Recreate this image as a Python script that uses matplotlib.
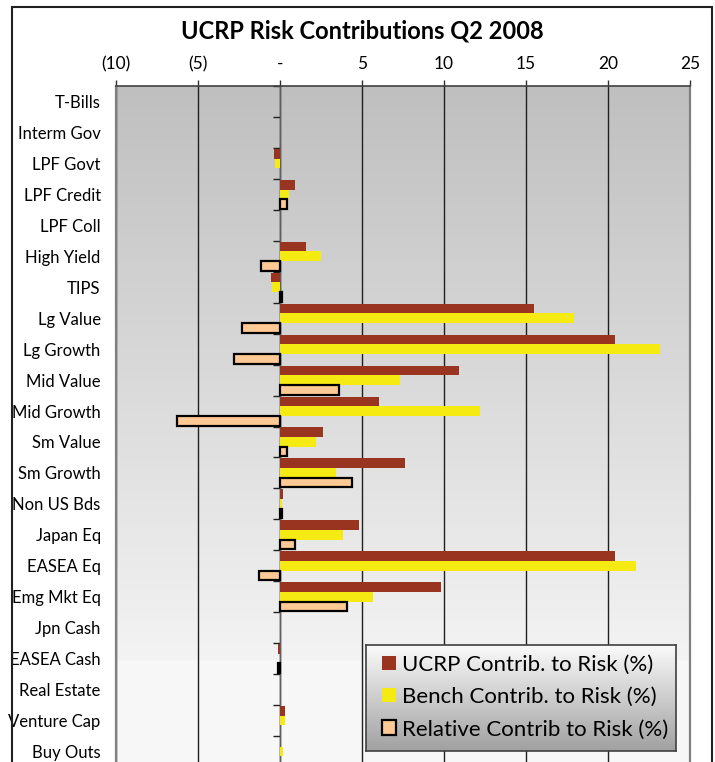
import numpy as np
import matplotlib
matplotlib.use("Agg")
import matplotlib.pyplot as plt
from matplotlib import font_manager
from matplotlib.patches import Patch, Rectangle

# Data
categories = ["T-Bills", "Interm Gov", "LPF Govt", "LPF Credit", "LPF Coll",
              "High Yield", "TIPS", "Lg Value", "Lg Growth", "Mid Value",
              "Mid Growth", "Sm Value", "Sm Growth", "Non US Bds", "Japan Eq",
              "EASEA Eq", "Emg Mkt Eq", "Jpn Cash", "EASEA Cash", "Real Estate",
              "Venture Cap", "Buy Outs"]
ucrp = [0, 0, -0.35, 0.92, 0, 1.6, -0.55, 15.5, 20.4, 10.9, 6.05, 2.6, 7.6,
        0.2, 4.8, 20.4, 9.8, 0, -0.1, 0, 0.3, 0]
bench = [0, 0, -0.3, 0.55, 0, 2.5, -0.5, 17.9, 23.2, 7.3, 12.2, 2.2, 3.4,
         0.15, 3.85, 21.7, 5.7, 0, 0, 0, 0.28, 0.18]
relative = [0, 0, 0, 0.4, 0, -1.15, 0.15, -2.3, -2.8, 3.6, -6.3, 0.4, 4.4,
            0.1, 0.93, -1.3, 4.1, 0, -0.1, 0, 0, 0]
x_ticks = [-10, -5, 0, 5, 10, 15, 20, 25]
x_labels = ["(10)", "(5)", "-", "5", "10", "15", "20", "25"]
series_names = ["UCRP Contrib. to Risk (%)", "Bench Contrib. to Risk (%)",
                "Relative Contrib to Risk (%)"]

# Colours
red = "#993420"
yellow = "#f6ea13"
peach = "#fec994"

# Fonts
names = {f.name for f in font_manager.fontManager.ttflist}
narrow = "Liberation Sans Narrow" if "Liberation Sans Narrow" in names else "Lato"
humanist = "Lato" if "Lato" in names else "DejaVu Sans"

W, H = 715, 762
fig = plt.figure(figsize=(W / 100, H / 100), dpi=100)

# plot area in pixels: left 116, right 690, top 86, bottom 767 (cropped)
ax = fig.add_axes([116 / W, 1 - 767 / H, 574 / W, 681 / H])

y = np.arange(len(categories))
h = 0.312
ax.barh(y - h, ucrp, height=h, color=red, zorder=2)
ax.barh(y, bench, height=h, color=yellow, zorder=2)
rel = np.array(relative)
ax.barh(y + h, rel, height=h, color=peach, edgecolor="black",
        linewidth=np.where(rel == 0, 0, 1.6), zorder=2)

# background gradient of the plot area
frac = np.linspace(1, 0, 256)
shade = np.where(frac > 0.154, 0.75 + (0.955 - 0.75) * (1 - frac) / (1 - 0.154), 0.972)
grad = np.stack([shade] * 3, axis=-1)[:, None, :]
ax.imshow(grad, extent=[0, 1, 0, 1], transform=ax.transAxes, aspect="auto",
          zorder=0, interpolation="bilinear")
ax.set_xlim(-10, 25)
ax.set_ylim(len(categories) - 0.5, -0.5)

# x axis on top
ax.xaxis.tick_top()
ax.set_xticks(x_ticks)
ax.set_xticklabels(x_labels, fontsize=12.5, family=narrow)
ax.tick_params(axis="x", direction="out", length=4, width=1, color="#303030", pad=6)
ax.grid(axis="x", color="#202020", linewidth=1, zorder=1)
ax.set_axisbelow(True)

# category labels
ax.set_yticks(y)
ax.set_yticklabels(categories, fontsize=12, family=narrow)
ax.tick_params(axis="y", length=0, pad=11)

for s in ["left", "right"]:
    ax.spines[s].set_color("#808080")
    ax.spines[s].set_linewidth(1.6)
ax.spines["top"].set_color("#404040")
ax.spines["top"].set_linewidth(1.2)
ax.spines["bottom"].set_visible(False)

# zero line with category boundary ticks
sec = ax.secondary_yaxis(10 / 35)
sec.set_yticks(np.arange(-0.5, len(categories), 1))
sec.set_yticklabels([])
sec.tick_params(axis="y", direction="out", length=5, width=1, color="#202020")
sec.spines["left"].set_color("#606060")
sec.spines["left"].set_linewidth(1)
sec.set_zorder(0.6)

# title
fig.text(362 / W, 1 - 31 / H, "UCRP Risk Contributions Q2 2008", ha="center",
         va="center", fontsize=17, fontweight="bold", family=humanist)

# legend box with gradient
lax = fig.add_axes([366 / W, 1 - 751 / H, 310 / W, 106 / H], zorder=1)
lg = np.linspace(0.98, 0.63, 128)
lax.imshow(np.stack([lg] * 3, axis=-1)[:, None, :], aspect="auto",
           extent=[0, 1, 0, 1], interpolation="bilinear")
lax.set_xticks([])
lax.set_yticks([])
for s in lax.spines.values():
    s.set_color("#404040")
    s.set_linewidth(1.2)

handles = [Patch(facecolor=red), Patch(facecolor=yellow),
           Patch(facecolor=peach, edgecolor="black", linewidth=1.6)]
leg = fig.legend(handles, series_names, loc="center left",
                 bbox_to_anchor=(382 / W, 1 - 697 / H), frameon=False,
                 prop={"family": humanist, "size": 16}, handlelength=0.62,
                 handleheight=0.62, handletextpad=0.3, labelspacing=0.56,
                 borderpad=0, borderaxespad=0)

# outer chart border
fig.patches.append(Rectangle((12 / W, -0.02), 700 / W, 1 - 7 / H + 0.02,
                             transform=fig.transFigure, fill=False,
                             edgecolor="#202020", linewidth=1.5, zorder=0))

fig.savefig("out.png", dpi=100)
